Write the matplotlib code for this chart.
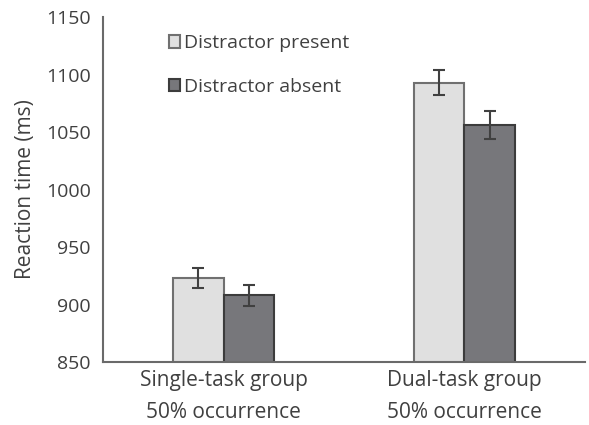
import numpy as np
import matplotlib.pyplot as plt

plt.rcParams['font.family'] = ['Open Sans', 'DejaVu Sans']

groups = ['Single-task group\n50% occurrence', 'Dual-task group\n50% occurrence']
present = [923, 1093]
present_err = [9, 11]
absent = [908, 1056]
absent_err = [9, 12]

text_col = '#404040'
w = 0.21
x = np.arange(len(groups))

fig = plt.figure(figsize=(5.89, 4.25), dpi=100)
ax = fig.add_axes([0.175, 0.148, 0.818, 0.812])

ax.bar(x - w/2, present, w, bottom=0, color='#e0e0e0', edgecolor='#707070', linewidth=1.5,
       yerr=present_err, error_kw=dict(ecolor='#404040', elinewidth=1.5, capsize=4, capthick=1.5),
       label='Distractor present')
ax.bar(x + w/2, absent, w, bottom=0, color='#77777b', edgecolor='#3c3c3c', linewidth=1.5,
       yerr=absent_err, error_kw=dict(ecolor='#404040', elinewidth=1.5, capsize=4, capthick=1.5),
       label='Distractor absent')

ax.set_xlim(-0.5, 1.5)
ax.set_ylim(850, 1150)
ax.set_yticks(np.arange(850, 1151, 50))
ax.set_xticks(x)
ax.set_xticklabels(groups, fontsize=15, color=text_col, linespacing=1.65)
ax.tick_params(axis='y', length=0, labelsize=14, labelcolor=text_col, pad=9)
ax.tick_params(axis='x', length=0, pad=6)
ax.set_ylabel('Reaction time (ms)', fontsize=15, color=text_col, labelpad=7)

for s in ['top', 'right']:
    ax.spines[s].set_visible(False)
for s in ['left', 'bottom']:
    ax.spines[s].set_color('#6a6a6a')
    ax.spines[s].set_linewidth(1.5)

leg = ax.legend(loc='upper left', bbox_to_anchor=(0.1, 1.0), frameon=False, fontsize=14,
                labelcolor=text_col, handlelength=0.6, handleheight=0.6, handletextpad=0.2,
                labelspacing=1.3)

fig.savefig('out.png', dpi=100)
